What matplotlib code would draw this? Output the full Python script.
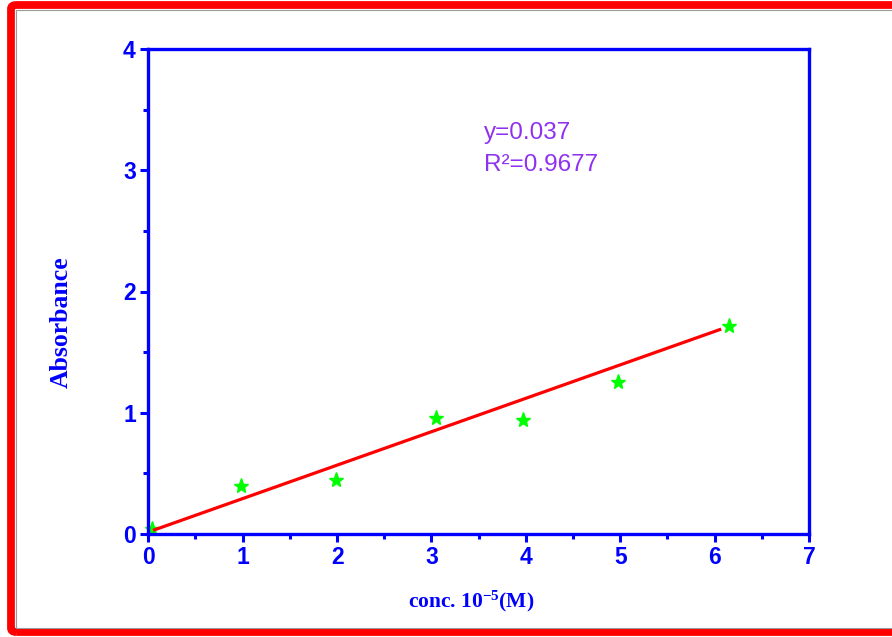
import matplotlib
matplotlib.use("Agg")
import matplotlib.pyplot as plt
from matplotlib.patches import FancyBboxPatch
from matplotlib.ticker import MultipleLocator

# Calibration data
conc = [0.04, 0.985, 1.99, 3.05, 3.97, 4.98, 6.15]
absorbance = [0.04, 0.40, 0.445, 0.96, 0.937, 1.25, 1.715]

# Linear fit segment
fit_x = [0.05, 6.07]
fit_y = [0.03, 1.69]

x_ticks = [0, 1, 2, 3, 4, 5, 6, 7]
y_ticks = [0, 1, 2, 3, 4]

eq_lines = ["y=0.037", "R\u00b2=0.9677"]

plt.rcParams["mathtext.fontset"] = "custom"
plt.rcParams["mathtext.rm"] = "Liberation Serif:bold"
plt.rcParams["mathtext.bf"] = "Liberation Serif:bold"
plt.rcParams["mathtext.it"] = "Liberation Serif:bold"

BLUE = "#0000ff"
PURPLE = "#9030f0"
fig = plt.figure(figsize=(8.92, 6.37), dpi=100)
fig.patch.set_facecolor("white")

# Red frame around the figure (open on the right side)
frame = FancyBboxPatch((11 / 892, 5 / 637), 1.2, 627 / 637,
                       boxstyle="round,pad=0,rounding_size=0.006",
                       transform=fig.transFigure, facecolor="none",
                       edgecolor="#ff0000", linewidth=5.6, clip_on=False)
fig.patches.append(frame)
inner = FancyBboxPatch((16 / 892, 9.5 / 637), 1.2, 618 / 637,
                       boxstyle="square,pad=0",
                       transform=fig.transFigure, facecolor="none",
                       edgecolor="#9a9a9a", linewidth=0.8, clip_on=False)
fig.patches.append(inner)

ax = fig.add_axes([148.3 / 892, (637 - 534) / 637, (809 - 148.3) / 892, (534 - 49) / 637])
ax.set_xlim(0, 7)
ax.set_ylim(0, 4)

ax.plot(fit_x, fit_y, color="#ff0000", linewidth=2.3, zorder=3, solid_capstyle="butt")
ax.plot(conc, absorbance, linestyle="none", marker="*", markersize=11,
        color="#00ff00", markeredgecolor="#00ff00", zorder=2, clip_on=False)

for side in ["left", "right", "top", "bottom"]:
    ax.spines[side].set_color(BLUE)
    ax.spines[side].set_linewidth(2.4)
    ax.spines[side].set_zorder(4)

ax.set_xticks(x_ticks)
ax.set_yticks(y_ticks)
ax.xaxis.set_minor_locator(MultipleLocator(0.5))
ax.yaxis.set_minor_locator(MultipleLocator(0.5))
ax.tick_params(which="major", direction="out", length=6, width=2.2, color=BLUE,
               labelcolor=BLUE, labelsize=16.5, pad=3)
ax.tick_params(which="minor", direction="out", length=3.5, width=2.2, color=BLUE)
for lab in ax.get_xticklabels() + ax.get_yticklabels():
    lab.set_fontfamily("Liberation Sans")
    lab.set_fontweight("bold")

fig.text(471 / 892, 1 - 601 / 637, r"conc. 10$^{-5}$(M)", color=BLUE,
         fontfamily="Liberation Serif", fontweight="bold", fontsize=15.5,
         ha="center", va="center")
fig.text(61 / 892, 1 - 322 / 637, "Absorbance", color=BLUE,
         fontfamily="Liberation Serif", fontweight="bold", fontsize=18.5,
         ha="center", va="center", rotation=90)

fig.text(484 / 892, 1 - 133 / 637, eq_lines[0], color=PURPLE,
         fontfamily="Liberation Sans", fontsize=17.5, ha="left", va="center")
fig.text(484 / 892, 1 - 165 / 637, eq_lines[1], color=PURPLE,
         fontfamily="Liberation Sans", fontsize=17.5, ha="left", va="center")

fig.savefig("out.png", dpi=100)
